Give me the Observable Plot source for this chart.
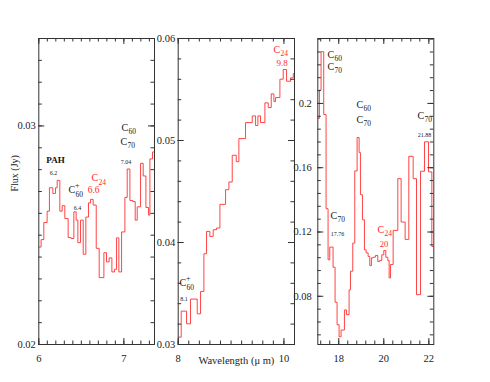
<!DOCTYPE html>
<html><head><meta charset="utf-8">
<script src="https://cdn.jsdelivr.net/npm/d3@7"></script>
<script src="https://cdn.jsdelivr.net/npm/@observablehq/plot@0.6"></script>
<style>
html,body{margin:0;padding:0;background:#fff;}
#chart{position:relative;width:490px;height:382px;}
#chart svg{position:absolute;left:0;top:0;background:transparent;overflow:visible;}
</style></head><body><div id="chart"></div>
<script>
// ---- Panel 1 (6 - 7.36 µm): bin start wavelengths and flux
const p1Wave = [6.000, 6.027, 6.059, 6.098, 6.125, 6.165, 6.196, 6.216, 6.247, 6.275, 6.306, 6.345, 6.380, 6.412, 6.439, 6.459, 6.490, 6.522, 6.553, 6.584, 6.608, 6.639, 6.675, 6.710, 6.765, 6.796, 6.827, 6.859, 6.890, 6.914, 6.941, 6.973, 7.012, 7.039, 7.071, 7.106, 7.133, 7.157, 7.196, 7.227, 7.259, 7.290, 7.306, 7.337, 7.361];
const p1Flux = [0.02446, 0.02480, 0.02558, 0.02610, 0.02717, 0.02691, 0.02717, 0.02751, 0.02610, 0.02635, 0.02576, 0.02489, 0.02485, 0.02607, 0.02569, 0.02466, 0.02569, 0.02413, 0.02583, 0.02648, 0.02664, 0.02638, 0.02440, 0.02306, 0.02420, 0.02378, 0.02396, 0.02332, 0.02344, 0.02488, 0.02332, 0.02515, 0.02673, 0.02803, 0.02659, 0.02654, 0.02569, 0.02630, 0.02829, 0.02771, 0.02627, 0.02592, 0.02849, 0.02881, 0.02881];
// ---- Panel 2 (8 - 10.2 µm)
const p2Wave = [8.000, 8.057, 8.158, 8.233, 8.360, 8.423, 8.486, 8.536, 8.599, 8.662, 8.726, 8.789, 8.896, 8.959, 9.022, 9.098, 9.148, 9.274, 9.401, 9.464, 9.508, 9.558, 9.640, 9.703, 9.760, 9.811, 9.842, 9.924, 9.987, 10.050, 10.126, 10.177, 10.202];
const p2Flux = [0.03072, 0.03327, 0.03203, 0.03445, 0.03301, 0.03520, 0.03890, 0.04109, 0.04060, 0.04125, 0.04142, 0.04374, 0.04518, 0.04593, 0.04855, 0.04793, 0.05019, 0.05176, 0.05241, 0.05146, 0.05241, 0.05176, 0.05369, 0.05323, 0.05457, 0.05382, 0.05421, 0.05601, 0.05696, 0.05581, 0.05614, 0.05656, 0.05656];
// ---- Panel 3 (17 - 22.2 µm)
const p3Wave = [17.067, 17.141, 17.215, 17.333, 17.437, 17.526, 17.600, 17.748, 17.837, 17.926, 18.015, 18.104, 18.252, 18.341, 18.459, 18.519, 18.622, 18.711, 18.815, 18.904, 18.963, 19.052, 19.141, 19.215, 19.304, 19.378, 19.452, 19.526, 19.630, 19.733, 19.807, 19.911, 20.000, 20.089, 20.178, 20.237, 20.296, 20.415, 20.622, 20.770, 20.948, 21.111, 21.304, 21.452, 21.630, 21.807, 21.985, 22.133, 22.222];
const p3Flux = [0.1907, 0.2083, 0.2322, 0.1931, 0.1345, 0.1027, 0.1106, 0.0981, 0.0763, 0.0623, 0.0548, 0.0590, 0.0715, 0.0686, 0.0840, 0.0956, 0.1131, 0.1580, 0.1788, 0.1694, 0.1432, 0.1276, 0.1089, 0.1070, 0.1048, 0.0991, 0.1039, 0.1043, 0.1054, 0.1016, 0.1022, 0.1058, 0.1085, 0.1043, 0.1022, 0.0914, 0.0998, 0.1210, 0.1532, 0.1262, 0.1154, 0.1671, 0.1532, 0.0810, 0.1578, 0.1761, 0.1574, 0.1110, 0.1110];

// ---- tick labels
const p1XTicks = [6, 7];
const p1YTicks = [0.02, 0.03];
const p2XTicks = [8, 10];
const p2YTicks = [0.03, 0.04, 0.05, 0.06];
const p3XTicks = [18, 20, 22];
const p3YTicks = [0.08, 0.12, 0.16, 0.2];

// ---- annotations
const p1Species = [
  {x: 6.349, y: 0.02693, base: "C", sub: "60", sup: "+", color: "black"},
  {x: 6.620, y: 0.02748, base: "C", sub: "24", sup: "", color: "red"},
  {x: 6.973, y: 0.02977, base: "C", sub: "60", sup: "", color: "black"},
  {x: 6.961, y: 0.02913, base: "C", sub: "70", sup: "", color: "black"}
];
const p1Bold = [{x: 6.196, y: 0.02830, text: "PAH"}];
const p1Small = [
  {x: 6.173, y: 0.02775, text: "6.2"},
  {x: 6.455, y: 0.02615, text: "6.4"},
  {x: 7.026, y: 0.02826, text: "7.04"}
];
const p1Red = [{x: 6.644, y: 0.02693, text: "6.6"}];

const p2Species = [
  {x: 8.025, y: 0.03569, base: "C", sub: "60", sup: "+", color: "black"},
  {x: 9.805, y: 0.05860, base: "C", sub: "24", sup: "", color: "red"}
];
const p2Small = [{x: 8.110, y: 0.03422, text: "8.1"}];
const p2Red = [{x: 9.966, y: 0.05730, text: "9.8"}];

const p3Species = [
  {x: 17.498, y: 0.2285, base: "C", sub: "60", sup: "", color: "black"},
  {x: 17.498, y: 0.2210, base: "C", sub: "70", sup: "", color: "black"},
  {x: 18.787, y: 0.1974, base: "C", sub: "60", sup: "", color: "black"},
  {x: 18.787, y: 0.1881, base: "C", sub: "70", sup: "", color: "black"},
  {x: 21.498, y: 0.1905, base: "C", sub: "70", sup: "", color: "black"},
  {x: 17.631, y: 0.1283, base: "C", sub: "70", sup: "", color: "black"},
  {x: 19.720, y: 0.1196, base: "C", sub: "24", sup: "", color: "red"}
];
const p3Small = [
  {x: 21.809, y: 0.1794, text: "21.88"},
  {x: 17.942, y: 0.1178, text: "17.76"}
];
const p3Red = [{x: 20.009, y: 0.1109, text: "20"}];

const FONT = "'Liberation Serif', 'DejaVu Serif', serif";
const W = 490, H = 382;
const TOP = 38, BOTTOM = 344;
const LINE_RED = "#ff3030";

function rows(wave, flux) { return wave.map((w, i) => ({w, f: flux[i]})); }

function frameTicks(xMaj, xMin, yMaj, yMin, fw, fh) {
  const L = 6, l = 3.5, c = "#333";
  const out = [];
  for (const [vals, len] of [[xMaj, L], [xMin, l]]) {
    out.push(Plot.tickX(vals, {x: d => d, insetTop: fh - len, stroke: c}));
    out.push(Plot.tickX(vals, {x: d => d, insetBottom: fh - len, stroke: c}));
  }
  for (const [vals, len] of [[yMaj, L], [yMin, l]]) {
    out.push(Plot.tickY(vals, {y: d => d, insetRight: fw - len, stroke: c}));
    out.push(Plot.tickY(vals, {y: d => d, insetLeft: fw - len, stroke: c}));
  }
  return out;
}

function speciesMarks(list) {
  const marks = [];
  for (const col of ["black", "red"]) {
    const sel = list.filter(d => d.color === col);
    if (!sel.length) continue;
    const fill = col === "red" ? "#ff2a2a" : "#222";
    marks.push(
      Plot.text(sel, {x: "x", y: "y", text: "base", fill, textAnchor: "start", lineAnchor: "bottom", fontSize: 10}),
      Plot.text(sel, {x: "x", y: "y", text: "sub", fill, textAnchor: "start", lineAnchor: "bottom", fontSize: 7.5, dx: 7, dy: 3.5}),
      Plot.text(sel.filter(d => d.sup), {x: "x", y: "y", text: "sup", fill, textAnchor: "start", lineAnchor: "bottom", fontSize: 8, dx: 6.5, dy: -5})
    );
  }
  return marks;
}
function labelMarks(list, size, color, weight) {
  return Plot.text(list, {x: "x", y: "y", text: "text", fill: color, fontSize: size, fontWeight: weight || "normal", lineAnchor: "bottom"});
}

function range(a, b, s) { const n = Math.round((b - a) / s); return d3.range(n + 1).map(i => +(a + i * s).toFixed(6)); }

function panel(cfg) {
  const fw = cfg.right - cfg.left, fh = BOTTOM - TOP;
  return Plot.plot({
    width: W, height: H,
    marginLeft: cfg.left, marginRight: W - cfg.right, marginTop: TOP, marginBottom: H - BOTTOM,
    style: {fontFamily: FONT, fontSize: "10.5px", background: "transparent", color: "#222"},
    x: {domain: cfg.xd},
    y: {domain: cfg.yd},
    marks: [
      Plot.line(rows(cfg.wave, cfg.flux), {x: "w", y: "f", curve: "step-after", stroke: LINE_RED, strokeWidth: 0.9, clip: true}),
      ...frameTicks(cfg.xMaj, cfg.xMin, cfg.yMaj, cfg.yMin, fw, fh),
      Plot.frame({stroke: "#333", strokeWidth: 1}),
      Plot.axisX({ticks: cfg.xTicks, tickSize: 0, tickPadding: 10, label: null, tickFormat: d => String(d), fill: "#222"}),
      Plot.axisY({ticks: cfg.yTicks, tickSize: 0, tickPadding: cfg.yPad, label: null, tickFormat: d => String(d), fill: "#222"}),
      ...cfg.extra
    ]
  });
}

const chart = document.getElementById("chart");

chart.append(panel({
  left: 38.3, right: 154, xd: [6, 7.36], yd: [0.02, 0.034],
  wave: p1Wave, flux: p1Flux,
  xMaj: p1XTicks, xMin: range(6, 7.3, 0.1), yMaj: p1YTicks, yMin: range(0.02, 0.034, 0.001),
  xTicks: p1XTicks, yTicks: p1YTicks, yPad: 3,
  extra: [
    ...speciesMarks(p1Species),
    labelMarks(p1Bold, 9, "#111", "bold"),
    labelMarks(p1Small, 6, "#222"),
    labelMarks(p1Red, 9.5, "#ff2a2a"),
    Plot.text(["Flux (Jy)"], {frameAnchor: "left", rotate: -90, dx: -24, fontSize: 10, fill: "#222"})
  ]
}));

chart.append(panel({
  left: 177.7, right: 294, xd: [8, 10.2], yd: [0.03, 0.06],
  wave: p2Wave, flux: p2Flux,
  xMaj: p2XTicks, xMin: range(8, 10.2, 0.2), yMaj: p2YTicks, yMin: range(0.03, 0.06, 0.002),
  xTicks: p2XTicks, yTicks: p2YTicks, yPad: 3,
  extra: [
    ...speciesMarks(p2Species),
    labelMarks(p2Small, 6, "#222"),
    labelMarks(p2Red, 9, "#ff2a2a"),
    Plot.text(["Wavelength (\u03bc m)"], {frameAnchor: "bottom", dy: 19, fontSize: 10.5, fill: "#222"})
  ]
}));

chart.append(panel({
  left: 317.3, right: 433.3, xd: [17.07, 22.22], yd: [0.05, 0.2404],
  wave: p3Wave, flux: p3Flux,
  xMaj: p3XTicks, xMin: range(17.2, 22.0, 0.4), yMaj: p3YTicks, yMin: range(0.056, 0.24, 0.008),
  xTicks: p3XTicks, yTicks: p3YTicks, yPad: 6,
  extra: [
    ...speciesMarks(p3Species),
    labelMarks(p3Small, 6, "#222"),
    labelMarks(p3Red, 8.5, "#ff2a2a")
  ]
}));
</script></body></html>
